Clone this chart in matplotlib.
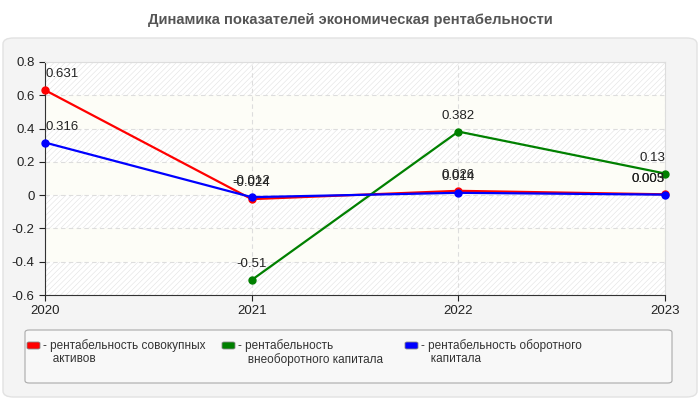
import numpy as np
import matplotlib.pyplot as plt
from matplotlib.patches import FancyBboxPatch
from matplotlib.ticker import FuncFormatter

plt.rcParams['font.family'] = ['Liberation Sans', 'DejaVu Sans']
plt.rcParams['hatch.linewidth'] = 0.4

#=========================================================================#
# data
years = [2020, 2021, 2022, 2023]
total_assets = [0.631, -0.024, 0.026, 0.005]
noncurrent_capital = [None, -0.51, 0.382, 0.13]
working_capital = [0.316, -0.012, 0.014, 0.003]

series_names = ["рентабельность совокупных\nактивов",
                "рентабельность\nвнеоборотного капитала",
                "рентабельность оборотного\nкапитала"]
series_values = [total_assets, noncurrent_capital, working_capital]
series_colors = ['#ff0000', '#008000', '#0000ff']
title = "Динамика показателей экономическая рентабельности"

#=========================================================================#
W, H = 700, 400
fig = plt.figure(figsize=(7, 4), dpi=100, facecolor='white')

def px(x0, y0, x1, y1):
    # pixel box (top-left origin) -> figure coords
    return x0 / W, 1 - y1 / H, (x1 - x0) / W, (y1 - y0) / H

# outer panel
x, y, w, h = px(3, 38, 697, 397)
fig.patches.append(FancyBboxPatch((x, y), w, h, boxstyle="round,pad=0,rounding_size=0.015",
                                  transform=fig.transFigure, facecolor='#f4f4f4',
                                  edgecolor='#e2e2e2', linewidth=1, zorder=0))

fig.text(0.5, 1 - 20 / H, title, ha='center', va='center', fontsize=10.6,
         fontweight='bold', color='#555555')

ax = fig.add_axes(px(45, 62, 665, 295))
ax.set_zorder(3)
ax.set_facecolor('#fdfdf7')
ax.set_xlim(2020, 2023)
ax.set_ylim(-0.6, 0.8)
yt = np.round(np.arange(-0.6, 0.81, 0.2), 1)
ax.set_yticks(yt)
ax.set_xticks(years)
ax.yaxis.set_major_formatter(FuncFormatter(lambda v, p: f'{v:g}' if abs(v) > 1e-9 else '0'))

# striped background bands
for i, lo in enumerate(yt[:-1]):
    if i % 2 == 0:
        ax.axhspan(lo, lo + 0.2, facecolor='white', edgecolor='#e2e2e2',
                   hatch='//////', linewidth=0, zorder=0)

ax.grid(True, linestyle=(0, (4, 3)), color='#dddddd', linewidth=0.8, zorder=1)
ax.set_axisbelow(True)
for s in ['top', 'right']:
    ax.spines[s].set_color('#dddddd')
for s in ['left', 'bottom']:
    ax.spines[s].set_color('#333333')
ax.tick_params(labelsize=9.5, colors='#222222', length=4)

for vals, col in zip(series_values, series_colors):
    xs = [yr for yr, v in zip(years, vals) if v is not None]
    ys = [v for v in vals if v is not None]
    ax.plot(xs, ys, color=col, linewidth=1.6, marker='o', markersize=5, zorder=3, clip_on=False)
    for xv, yv in zip(xs, ys):
        ha = 'left' if xv == years[0] else ('right' if xv == years[-1] else 'center')
        ax.annotate(f'{yv:g}', (xv, yv), xytext=(0, 7), textcoords='offset points',
                    ha=ha, va='bottom', fontsize=9.5, color='#222222', zorder=4)

# legend box
x, y, w, h = px(25, 330, 672, 383)
fig.patches.append(FancyBboxPatch((x, y), w, h, boxstyle="round,pad=0,rounding_size=0.006",
                                  transform=fig.transFigure, facecolor='#f8f8f8',
                                  edgecolor='#aaaaaa', linewidth=0.8, zorder=1))
item_x = [27, 222, 405]
for ix, name, col in zip(item_x, series_names, series_colors):
    sx, sy, sw, sh = px(ix, 342, ix + 13, 349)
    fig.patches.append(FancyBboxPatch((sx, sy), sw, sh, boxstyle="round,pad=0,rounding_size=0.003",
                                      transform=fig.transFigure, facecolor=col,
                                      edgecolor='#888888', linewidth=0.6, zorder=2))
    fig.text((ix + 16) / W, 1 - 339 / H, "- " + name.replace("\n", "\n   "), ha='left', va='top',
             fontsize=8.5, color='#333333', linespacing=1.15, zorder=3)

fig.savefig('out.png', dpi=100)
